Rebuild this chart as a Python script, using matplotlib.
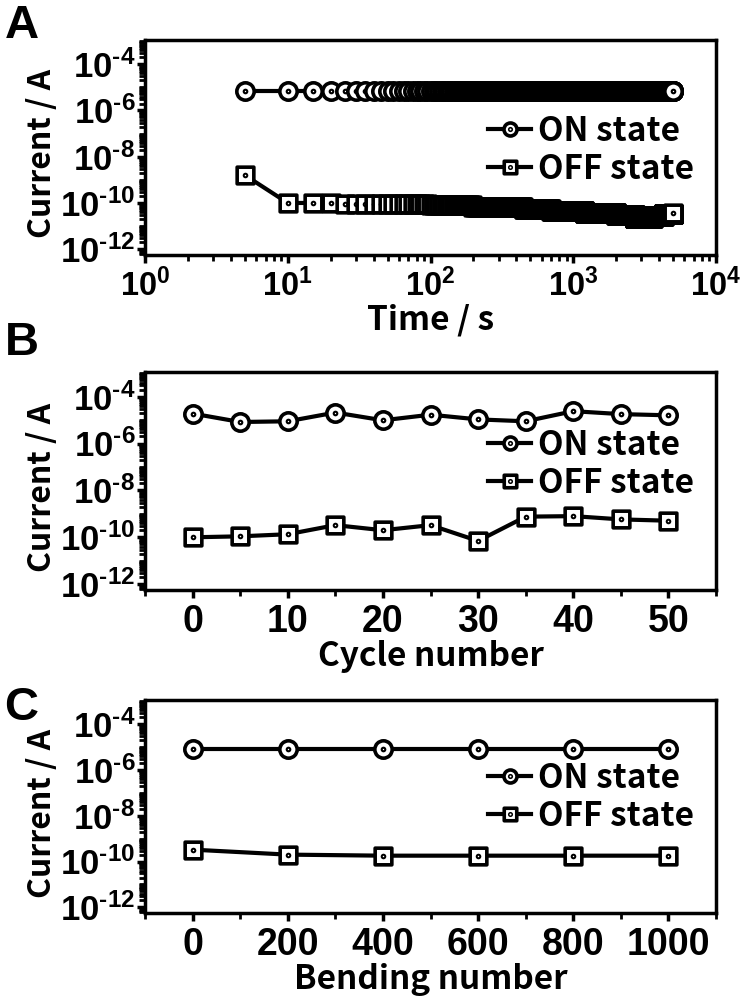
import numpy as np
import matplotlib
matplotlib.use('Agg')
import matplotlib.pyplot as plt
from matplotlib.path import Path
from matplotlib.markers import MarkerStyle
from matplotlib.ticker import FixedLocator, LogLocator, MultipleLocator, NullFormatter

plt.rcParams['font.family'] = ['Noto Sans CJK KR', 'DejaVu Sans']
plt.rcParams['font.weight'] = 'bold'
plt.rcParams['axes.labelweight'] = 'bold'
plt.rcParams['mathtext.fontset'] = 'custom'
plt.rcParams['mathtext.rm'] = 'Liberation Sans:bold'
plt.rcParams['mathtext.it'] = 'Liberation Sans:bold'
plt.rcParams['mathtext.bf'] = 'Liberation Sans:bold'
plt.rcParams['mathtext.default'] = 'bf'

# --- panel A: retention, one read every 5 s up to 5000 s
time_s = np.arange(5, 5001, 5)
on_level_A = 7.0e-6
off_seg_start = [5, 10, 25, 100, 200, 450, 700, 1200, 2000, 2700, 3600, 4300, 5000]
off_seg_level = [1.6e-9, 1.0e-10, 9e-11, 8e-11, 6.5e-11, 5.5e-11, 4.5e-11,
                 3.8e-11, 3.0e-11, 2.3e-11, 2.8e-11, 3.3e-11, 3.8e-11]

# --- panel B: endurance
cycles = [0, 5, 10, 15, 20, 25, 30, 35, 40, 45, 50]
on_cycle = [1.9e-5, 8.3e-6, 8.9e-6, 2.1e-5, 9.8e-6, 1.7e-5, 1.07e-5, 8.9e-6, 2.4e-5, 1.8e-5, 1.6e-5]
off_cycle = [1.0e-10, 1.1e-10, 1.35e-10, 3.3e-10, 2.0e-10, 3.3e-10, 7e-11, 7.6e-10, 8e-10, 5.8e-10, 5.1e-10]

# --- panel C: bending
bends = [0, 200, 400, 600, 800, 1000]
on_bend = [7.9e-6, 7.9e-6, 7.9e-6, 7.9e-6, 7.9e-6, 7.9e-6]
off_bend = [3.3e-10, 2.0e-10, 1.8e-10, 1.8e-10, 1.8e-10, 1.8e-10]

y_major = [1e-12, 1e-10, 1e-8, 1e-6, 1e-4]
y_labels = [r'$10^{\text{-12}}$', r'$10^{\text{-10}}$', r'$10^{\text{-8}}$',
            r'$10^{\text{-6}}$', r'$10^{\text{-4}}$']

on_time = np.full(len(time_s), on_level_A)
idx = np.searchsorted(off_seg_start, time_s, side='right') - 1
off_time = np.array(off_seg_level)[idx]

# circle / square with a dot in the middle
dot = Path.circle((0, 0), 0.12)
circ_path = Path.make_compound_path(Path.unit_circle(), dot)
sq_path = Path.make_compound_path(
    Path([(-1, -1), (1, -1), (1, 1), (-1, 1), (-1, -1)],
         [Path.MOVETO, Path.LINETO, Path.LINETO, Path.LINETO, Path.CLOSEPOLY]), dot)
circ_mk = MarkerStyle(circ_path, joinstyle='miter')
sq_mk = MarkerStyle(sq_path, joinstyle='miter')

fig = plt.figure(figsize=(7.41, 10.05), dpi=100)
left, width = 0.1957, 0.7706
ax_a = fig.add_axes([left, 0.7463, width, 0.2139])
ax_b = fig.add_axes([left, 0.4129, width, 0.2169])
ax_c = fig.add_axes([left, 0.0915, width, 0.2119])


def draw(ax, x, on, off, leg_y):
    ax.plot(x, on, color='k', lw=3, marker=circ_mk, ms=12.5, mfc='white',
            mec='k', mew=2.6, label='ON state')
    ax.plot(x, off, color='k', lw=3, marker=sq_mk, ms=12, mfc='white',
            mec='k', mew=2.6, label='OFF state')
    ax.set_yscale('log')
    ax.set_ylim(10 ** -12.25, 10 ** -2.95)
    ax.yaxis.set_major_locator(FixedLocator(y_major))
    ax.set_yticklabels(y_labels)
    ax.yaxis.set_minor_locator(LogLocator(base=10, subs=np.arange(1, 10), numticks=100))
    ax.yaxis.set_minor_formatter(NullFormatter())
    ax.set_ylabel('Current / A', fontsize=23)
    ax.yaxis.set_label_coords(-0.152, 0.47)
    for s in ax.spines.values():
        s.set_linewidth(2.5)
    ax.tick_params(which='major', direction='out', length=6, width=2.5, pad=4,
                   labelfontfamily='Liberation Sans')
    ax.tick_params(axis='y', which='major', labelsize=25, pad=1)
    ax.tick_params(axis='x', which='major', labelsize=27)
    ax.tick_params(which='minor', direction='out', length=4, width=2)
    ax.legend(loc='center right', bbox_to_anchor=(0.985, leg_y), frameon=False,
              fontsize=24, handlelength=1.3, markerscale=0.75, handletextpad=0.2,
              labelspacing=0.15, borderaxespad=0)


draw(ax_a, time_s, on_time, off_time, 0.486)
ax_a.set_xscale('log')
ax_a.set_xlim(1, 1e4)
ax_a.xaxis.set_major_locator(FixedLocator([1, 10, 100, 1000, 10000]))
ax_a.set_xticklabels([r'$10^{0}$', r'$10^{1}$', r'$10^{2}$', r'$10^{3}$', r'$10^{4}$'])
ax_a.tick_params(axis='x', which='major', labelsize=23.5)
ax_a.xaxis.set_minor_locator(LogLocator(base=10, subs=np.arange(2, 10), numticks=100))
ax_a.xaxis.set_minor_formatter(NullFormatter())
ax_a.set_xlabel('Time / s', fontsize=24, labelpad=0)

draw(ax_b, cycles, on_cycle, off_cycle, 0.576)
ax_b.set_xlim(-5, 55)
ax_b.xaxis.set_major_locator(MultipleLocator(10))
ax_b.xaxis.set_minor_locator(MultipleLocator(5))
ax_b.set_xlabel('Cycle number', fontsize=24, labelpad=0)

draw(ax_c, bends, on_bend, off_bend, 0.542)
ax_c.set_xlim(-100, 1100)
ax_c.xaxis.set_major_locator(MultipleLocator(200))
ax_c.xaxis.set_minor_locator(MultipleLocator(100))
ax_c.set_xlabel('Bending number', fontsize=24, labelpad=0)

for letter, y in (('A', 0.9622), ('B', 0.6468), ('C', 0.2836)):
    fig.text(0.006, y, letter, va='baseline', ha='left', fontsize=34,
             family=['Liberation Sans', 'DejaVu Sans'], weight='bold')

fig.savefig('out.png', dpi=100)
